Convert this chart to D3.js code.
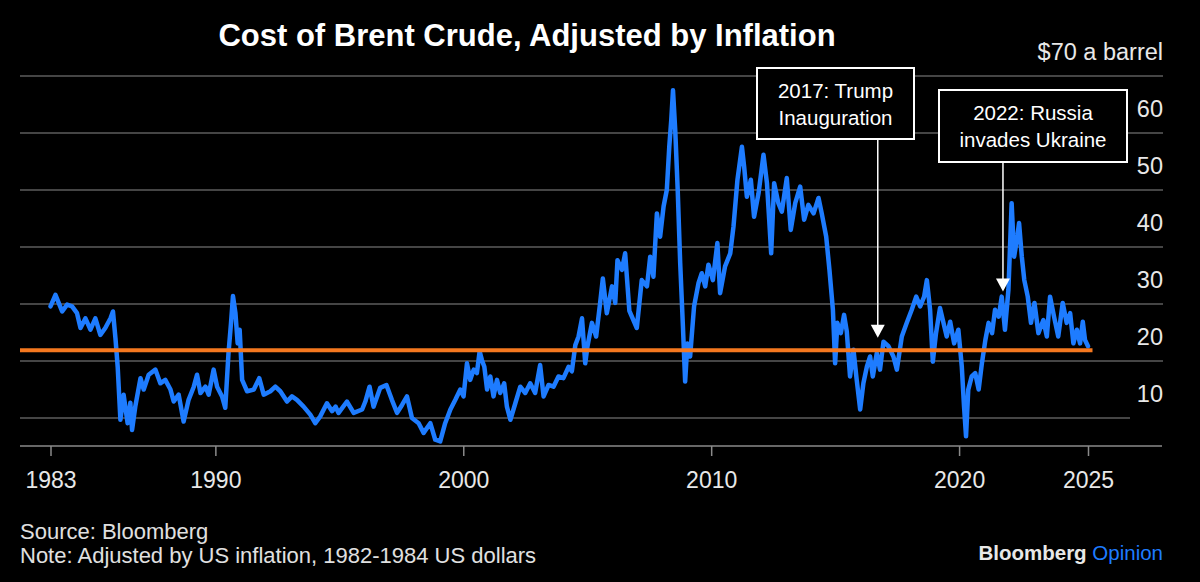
<!DOCTYPE html>
<html>
<head>
<meta charset="utf-8">
<script src="https://cdn.jsdelivr.net/npm/d3@7"></script>
<style>
  body { margin: 0; background: #000; }
  svg { display: block; font-family: "Liberation Sans", Arial, Helvetica, sans-serif; }
</style>
</head>
<body>
<div id="chart"></div>
<script>
const years = [
  1983.35, 1983.55, 1983.82, 1984.02, 1984.22, 1984.42, 1984.56, 1984.76, 1984.96, 1985.16,
  1985.36, 1985.56, 1985.77, 1985.87, 1985.97, 1986.06, 1986.17, 1986.30, 1986.46, 1986.57,
  1986.64, 1986.77, 1986.98, 1987.11, 1987.31, 1987.58, 1987.78, 1987.98, 1988.19, 1988.32,
  1988.52, 1988.72, 1988.92, 1989.13, 1989.26, 1989.40, 1989.60, 1989.73, 1989.93, 1990.07,
  1990.27, 1990.40, 1990.53, 1990.63, 1990.71, 1990.81, 1990.90, 1990.98, 1991.08, 1991.28,
  1991.55, 1991.77, 1991.95, 1992.22, 1992.42, 1992.62, 1992.89, 1993.09, 1993.29, 1993.56,
  1993.83, 1994.03, 1994.23, 1994.50, 1994.71, 1994.85, 1994.97, 1995.31, 1995.58, 1995.92,
  1996.05, 1996.22, 1996.38, 1996.65, 1996.90, 1997.12, 1997.33, 1997.53, 1997.73, 1997.93,
  1998.20, 1998.40, 1998.67, 1998.87, 1999.07, 1999.27, 1999.48, 1999.68, 1999.88, 2000.01,
  2000.15, 2000.28, 2000.42, 2000.55, 2000.66, 2000.75, 2000.85, 2000.96, 2001.09, 2001.22,
  2001.36, 2001.49, 2001.65, 2001.76, 2001.90, 2002.10, 2002.30, 2002.50, 2002.70, 2002.90,
  2003.10, 2003.24, 2003.44, 2003.64, 2003.84, 2004.04, 2004.25, 2004.38, 2004.52, 2004.65,
  2004.79, 2004.92, 2005.01, 2005.19, 2005.36, 2005.52, 2005.63, 2005.79, 2006.00, 2006.13,
  2006.22, 2006.40, 2006.53, 2006.70, 2007.00, 2007.20, 2007.41, 2007.54, 2007.67, 2007.81,
  2007.94, 2008.08, 2008.21, 2008.31, 2008.39, 2008.46, 2008.55, 2008.65, 2008.75, 2008.86,
  2008.95, 2009.04, 2009.15, 2009.31, 2009.49, 2009.62, 2009.76, 2009.89, 2010.07, 2010.25,
  2010.36, 2010.56, 2010.77, 2010.90, 2011.06, 2011.24, 2011.33, 2011.44, 2011.60, 2011.73,
  2011.91, 2012.11, 2012.25, 2012.34, 2012.42, 2012.54, 2012.71, 2012.85, 2013.05, 2013.21,
  2013.39, 2013.59, 2013.75, 2013.92, 2014.13, 2014.33, 2014.46, 2014.64, 2014.77, 2014.91,
  2015.00, 2015.09, 2015.23, 2015.36, 2015.47, 2015.60, 2015.74, 2015.87, 2016.01, 2016.14,
  2016.28, 2016.41, 2016.52, 2016.68, 2016.81, 2016.95, 2017.15, 2017.35, 2017.49, 2017.69,
  2017.89, 2018.09, 2018.27, 2018.43, 2018.59, 2018.70, 2018.83, 2018.94, 2019.07, 2019.23,
  2019.37, 2019.50, 2019.64, 2019.80, 2019.97, 2020.11, 2020.20, 2020.28, 2020.37, 2020.51,
  2020.65, 2020.79, 2020.92, 2021.06, 2021.19, 2021.33, 2021.45, 2021.60, 2021.72, 2021.85,
  2021.99, 2022.12, 2022.22, 2022.33, 2022.42, 2022.53, 2022.63, 2022.77, 2022.90, 2023.04,
  2023.20, 2023.40, 2023.54, 2023.67, 2023.83, 2024.00, 2024.18, 2024.34, 2024.48, 2024.61,
  2024.75, 2024.88, 2024.99, 2025.08, 2025.20
];
const realPrice = [
  29.6, 31.6, 28.7, 29.9, 29.6, 28.4, 25.8, 27.5, 25.5, 27.5,
  24.6, 25.8, 27.5, 28.7, 24.0, 19.0, 9.7, 14.1, 9.1, 12.7,
  7.9, 12.0, 17.0, 15.0, 17.6, 18.5, 16.1, 16.7, 15.0, 12.9,
  14.1, 9.4, 13.2, 15.5, 17.6, 14.4, 15.5, 14.1, 18.5, 15.5,
  13.8, 11.8, 21.4, 26.6, 31.4, 28.4, 23.1, 25.5, 16.7, 14.7,
  15.0, 17.0, 14.1, 14.7, 15.5, 14.7, 12.9, 13.8, 13.2, 12.0,
  10.6, 9.1, 10.3, 12.6, 11.2, 12.0, 10.9, 12.9, 10.9, 11.5,
  12.9, 15.5, 12.0, 15.3, 15.8, 13.2, 10.9, 12.3, 13.8, 10.0,
  9.1, 7.4, 9.1, 6.2, 5.9, 9.1, 11.5, 13.2, 15.0, 13.8,
  19.6, 16.7, 18.5, 17.9, 21.7, 20.2, 19.0, 15.0, 17.3, 13.8,
  16.7, 14.4, 16.1, 12.0, 9.7, 12.6, 15.5, 14.4, 16.1, 14.4,
  19.3, 13.8, 15.8, 15.5, 17.3, 17.0, 19.0, 18.2, 22.8, 24.3,
  27.5, 19.6, 22.6, 26.7, 24.3, 30.2, 34.5, 28.4, 33.1, 30.2,
  37.7, 36.0, 38.9, 28.8, 25.8, 34.2, 33.1, 38.3, 34.8, 45.9,
  41.8, 47.1, 50.0, 57.6, 62.3, 67.5, 60.5, 50.0, 37.2, 26.1,
  16.4, 23.1, 20.8, 29.6, 33.7, 35.4, 33.1, 36.9, 34.2, 40.7,
  31.9, 36.6, 38.9, 43.6, 51.8, 57.6, 54.1, 48.8, 51.8, 45.3,
  49.4, 56.2, 51.2, 44.8, 38.9, 51.2, 47.7, 46.2, 52.1, 43.0,
  47.7, 50.6, 44.8, 47.4, 45.9, 48.6, 45.9, 41.8, 36.0, 29.0,
  19.6, 26.7, 24.9, 28.1, 25.2, 17.3, 22.0, 16.7, 11.5, 16.1,
  19.0, 20.8, 17.3, 21.4, 18.5, 23.4, 22.6, 20.8, 18.5, 24.3,
  26.7, 29.0, 31.3, 29.6, 31.3, 34.2, 29.0, 19.9, 24.9, 29.3,
  26.7, 24.3, 26.9, 23.1, 25.5, 19.0, 12.0, 6.8, 15.0, 17.3,
  17.9, 15.0, 19.6, 23.7, 26.7, 24.9, 29.0, 27.8, 31.3, 25.5,
  32.5, 47.7, 38.3, 41.3, 44.2, 38.3, 34.2, 31.3, 26.7, 30.2,
  24.9, 27.2, 24.3, 31.3, 27.8, 24.3, 30.2, 26.7, 28.4, 23.1,
  25.5, 23.1, 26.9, 23.7, 22.6
];
const yTicks = [10, 20, 30, 40, 50, 60, 70];
const xTicks = [1983.35, 1990, 2000, 2010, 2020, 2025.2];
const xTickLabels = ["1983", "1990", "2000", "2010", "2020", "2025"];
const benchmark = 21.9; // today's $70 a barrel in 1982-84 dollars
const notes = [
  { lines: ["2017: Trump", "Inauguration"], year: 2016.72, value: 24.1 },
  { lines: ["2022: Russia", "invades Ukraine"], year: 2021.77, value: 32.2 },
];

const width = 1200;
const height = 582;
const left = 20;
const right = 1163;
const noteBoxes = [
  { x: 757, y: 68, w: 157, h: 71 },
  { x: 939, y: 90, w: 188, h: 72 },
];

const x = d3.scaleLinear()
  .domain([years[0], years[years.length - 1]])
  .range([50.5, 1088]);
const y = d3.scaleLinear().domain([5.1, 70]).range([446, 76]);

const svg = d3.select("#chart")
  .append("svg")
  .attr("width", width)
  .attr("height", height);

svg.append("rect").attr("width", width).attr("height", height).attr("fill", "#000");

svg.append("text")
  .attr("x", 527)
  .attr("y", 46)
  .attr("text-anchor", "middle")
  .attr("fill", "#fff")
  .attr("font-size", 31)
  .attr("font-weight", "bold")
  .text("Cost of Brent Crude, Adjusted by Inflation");

// horizontal grid + right labels
const grid = svg.append("g").attr("class", "grid");
grid.selectAll("line")
  .data(yTicks)
  .enter()
  .append("line")
  .attr("x1", left)
  .attr("x2", (d) => (d === 10 ? 1130 : right))
  .attr("y1", (d) => y(d))
  .attr("y2", (d) => y(d))
  .attr("stroke", "#5c5c5c")
  .attr("stroke-width", 1.5);

grid.selectAll("text")
  .data(yTicks)
  .enter()
  .append("text")
  .attr("x", right)
  .attr("y", (d) => y(d) - 16)
  .attr("text-anchor", "end")
  .attr("fill", "#e8e8e8")
  .attr("font-size", 23.5)
  .text((d) => (d === 70 ? "$70 a barrel" : d));

// x axis
svg.append("line")
  .attr("x1", left)
  .attr("x2", 1162)
  .attr("y1", y(5.1))
  .attr("y2", y(5.1))
  .attr("stroke", "#8a8a8a")
  .attr("stroke-width", 1.5);

const xAxis = svg.append("g")
  .attr("transform", `translate(0,${y(5.1)})`)
  .call(
    d3.axisBottom(x)
      .tickValues(xTicks)
      .tickSize(10)
      .tickPadding(16)
      .tickFormat((d, i) => xTickLabels[i])
  );
xAxis.select(".domain").remove();
xAxis.selectAll(".tick line").attr("stroke", "#8a8a8a").attr("stroke-width", 1.5);
xAxis.selectAll(".tick text")
  .attr("fill", "#e8e8e8")
  .attr("font-size", 23)
  .attr("font-family", "'Liberation Sans', Arial, sans-serif");

// price line
svg.append("path")
  .datum(realPrice)
  .attr("fill", "none")
  .attr("stroke", "#1e7cff")
  .attr("stroke-width", 4.5)
  .attr("stroke-linejoin", "round")
  .attr("stroke-linecap", "round")
  .attr(
    "d",
    d3.line()
      .x((d, i) => x(years[i]))
      .y((d) => y(d))
  );

// today's price level
svg.append("line")
  .attr("x1", left)
  .attr("x2", 1092.5)
  .attr("y1", y(benchmark))
  .attr("y2", y(benchmark))
  .attr("stroke", "#f5781f")
  .attr("stroke-width", 4);

// annotations
const note = svg.selectAll(".note")
  .data(notes)
  .enter()
  .append("g")
  .attr("class", "note");

note.append("line")
  .attr("x1", (d) => x(d.year))
  .attr("x2", (d) => x(d.year))
  .attr("y1", (d, i) => noteBoxes[i].y + noteBoxes[i].h)
  .attr("y2", (d) => y(d.value) - 12)
  .attr("stroke", "#fff")
  .attr("stroke-width", 1.5);

note.append("path")
  .attr("fill", "#fff")
  .attr("d", (d) => {
    const tx = x(d.year);
    const ty = y(d.value);
    return `M${tx - 7},${ty - 13}L${tx + 7},${ty - 13}L${tx},${ty}Z`;
  });

note.append("rect")
  .attr("x", (d, i) => noteBoxes[i].x)
  .attr("y", (d, i) => noteBoxes[i].y)
  .attr("width", (d, i) => noteBoxes[i].w)
  .attr("height", (d, i) => noteBoxes[i].h)
  .attr("fill", "#000")
  .attr("stroke", "#fff")
  .attr("stroke-width", 2);

note.each(function (d, i) {
  const b = noteBoxes[i];
  d3.select(this)
    .selectAll("text")
    .data(d.lines)
    .enter()
    .append("text")
    .attr("x", b.x + b.w / 2)
    .attr("y", (t, j) => b.y + 30 + j * 26.5)
    .attr("text-anchor", "middle")
    .attr("fill", "#fff")
    .attr("font-size", 20.5)
    .text((t) => t);
});

// footer
svg.append("text")
  .attr("x", left)
  .attr("y", 539)
  .attr("fill", "#e0e0e0")
  .attr("font-size", 22)
  .text("Source: Bloomberg");

svg.append("text")
  .attr("x", left)
  .attr("y", 563)
  .attr("fill", "#e0e0e0")
  .attr("font-size", 22)
  .text("Note: Adjusted by US inflation, 1982-1984 US dollars");

const brand = svg.append("text")
  .attr("x", right)
  .attr("y", 560)
  .attr("text-anchor", "end")
  .attr("font-size", 20.5);
brand.append("tspan").attr("fill", "#e8e8e8").attr("font-weight", "bold").text("Bloomberg");
brand.append("tspan").attr("fill", "#1e7cff").text(" Opinion");
</script>
</body>
</html>
